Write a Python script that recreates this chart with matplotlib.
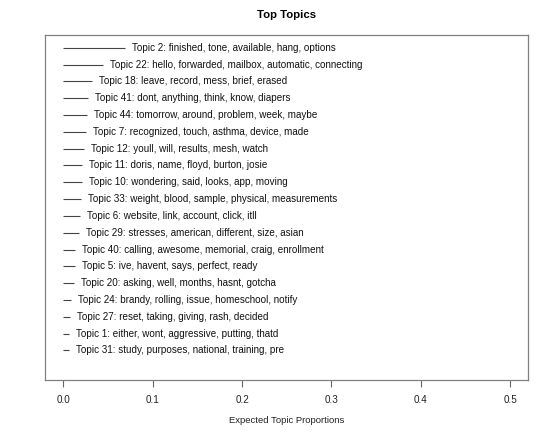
import matplotlib
matplotlib.use("Agg")
import matplotlib.pyplot as plt

plt.rcParams['font.family'] = ['Liberation Sans', 'DejaVu Sans']

# topic labels, top of chart first
labels = [
    "Topic 2: finished, tone, available, hang, options",
    "Topic 22: hello, forwarded, mailbox, automatic, connecting",
    "Topic 18: leave, record, mess, brief, erased",
    "Topic 41: dont, anything, think, know, diapers",
    "Topic 44: tomorrow, around, problem, week, maybe",
    "Topic 7: recognized, touch, asthma, device, made",
    "Topic 12: youll, will, results, mesh, watch",
    "Topic 11: doris, name, floyd, burton, josie",
    "Topic 10: wondering, said, looks, app, moving",
    "Topic 33: weight, blood, sample, physical, measurements",
    "Topic 6: website, link, account, click, itll",
    "Topic 29: stresses, american, different, size, asian",
    "Topic 40: calling, awesome, memorial, craig, enrollment",
    "Topic 5: ive, havent, says, perfect, ready",
    "Topic 20: asking, well, months, hasnt, gotcha",
    "Topic 24: brandy, rolling, issue, homeschool, notify",
    "Topic 27: reset, taking, giving, rash, decided",
    "Topic 1: either, wont, aggressive, putting, thatd",
    "Topic 31: study, purposes, national, training, pre",
]
proportions = [0.0686, 0.0447, 0.0324, 0.0280, 0.0268, 0.0257, 0.0231,
               0.0212, 0.0205, 0.0201, 0.0182, 0.0175, 0.0126, 0.0130,
               0.0119, 0.0082, 0.0070, 0.0066, 0.0063]
xticks = [0.0, 0.1, 0.2, 0.3, 0.4, 0.5]

fig = plt.figure(figsize=(5.52, 4.32), dpi=100)
ax = fig.add_axes([0.081, 0.1204, 0.8755, 0.7986])

n = len(labels)
for i, (lab, val) in enumerate(zip(labels, proportions)):
    y = n - i
    ax.plot([0, val], [y, y], color="#444444", lw=0.8, solid_capstyle="butt")
    ax.annotate(lab, xy=(val, y), xytext=(5, 0), textcoords="offset points",
                ha="left", va="center", fontsize=7.1, color="#111111")

ax.set_xlim(-0.021, 0.52)
ax.set_ylim(-0.76, n + 0.76)
ax.set_yticks([])
ax.set_xticks(xticks)
ax.set_xticklabels(["%.1f" % t for t in xticks], fontsize=7.1, color="#222222")
ax.tick_params(axis="x", length=5, width=0.8, color="#666666", pad=6)
for s in ax.spines.values():
    s.set_color("#808080")
    s.set_linewidth(0.9)
ax.set_xlabel("Expected Topic Proportions", fontsize=6.8, color="#222222", labelpad=7.5)
ax.set_title("Top Topics", fontsize=8.2, fontweight="bold", pad=12.5)

fig.savefig("out.png", dpi=100)
